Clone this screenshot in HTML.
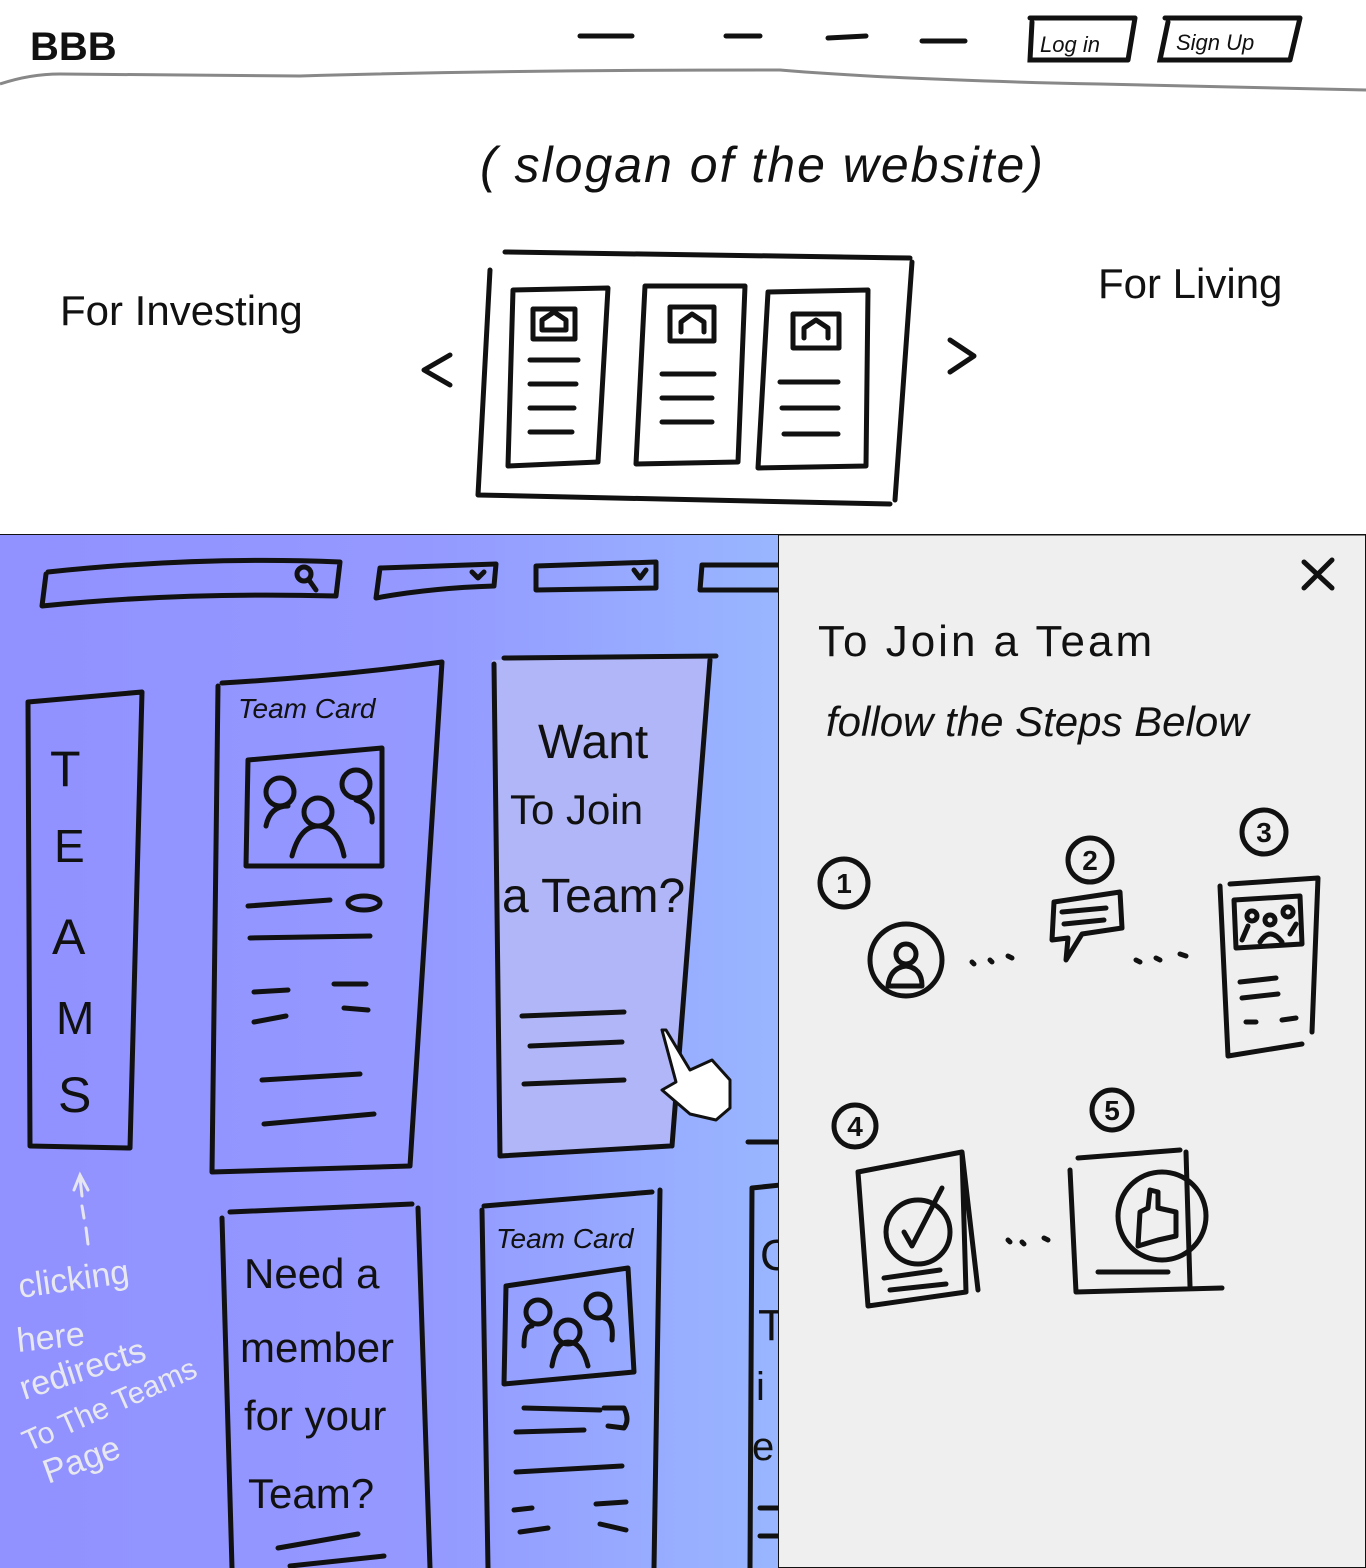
<!DOCTYPE html>
<html><head><meta charset="utf-8">
<style>
html,body{margin:0;padding:0;background:#fff;}
svg{display:block;}
text{font-family:"Liberation Sans",sans-serif;}
</style></head>
<body>
<svg width="1366" height="1568" viewBox="0 0 1366 1568" xmlns="http://www.w3.org/2000/svg">
<defs>
<linearGradient id="bg" x1="0" y1="0" x2="1" y2="0">
<stop offset="0" stop-color="#9191ff"/>
<stop offset="0.55" stop-color="#9499ff"/>
<stop offset="1" stop-color="#99b6ff"/>
</linearGradient>
<clipPath id="lc"><rect x="0" y="535" width="778" height="1033"/></clipPath>
</defs>
<rect width="1366" height="1568" fill="#fff"/>
<!-- header -->
<text x="30" y="60" font-size="40" font-weight="bold" fill="#111">BBB</text>
<g stroke="#111" stroke-width="5" stroke-linecap="round" fill="none">
<path d="M580 36 L632 36"/><path d="M726 36 L760 36"/><path d="M828 38 L866 36"/><path d="M922 41 L965 41"/>
<path d="M1030 18 L1135 18 M1032 22 L1030 60 L1128 60 M1135 18 L1128 60"/>
<path d="M1165 18 L1300 18 M1168 22 L1160 60 L1290 60 M1300 18 L1290 60"/>
</g>
<text x="1040" y="52" font-size="22" font-style="italic" fill="#111">Log in</text>
<text x="1176" y="50" font-size="22" font-style="italic" fill="#111">Sign Up</text>
<path d="M0 84 Q30 74 60 74 L300 76 Q500 70 780 70 Q900 80 1100 84 L1366 90" stroke="#888" stroke-width="3" fill="none"/>
<!-- slogan -->
<text x="480" y="182" font-size="50" font-style="italic" letter-spacing="2" fill="#111">( slogan of the website)</text>
<text x="60" y="325" font-size="42" fill="#111">For Investing</text>
<text x="1098" y="298" font-size="42" fill="#111">For Living</text>
<g stroke="#111" stroke-width="5" stroke-linecap="round" stroke-linejoin="round" fill="none">
<path d="M450 355 L424 370 L450 385"/>
<path d="M950 340 L974 356 L950 372"/>
<path d="M505 252 L910 258 M490 270 L478 495 L890 504 M912 262 L895 500"/>
<path d="M513 290 L608 288 L598 462 L508 466 Z"/>
<path d="M645 286 L745 286 L738 462 L636 464 Z"/>
<path d="M768 292 L868 290 L866 466 L758 468 Z"/>
<rect x="533" y="309" width="42" height="30"/><path d="M542 330 L542 320 L554 312 L566 320 L566 330 Z"/>
<rect x="670" y="307" width="44" height="34"/><path d="M681 332 L681 322 L692 314 L704 322 L704 332"/>
<rect x="793" y="314" width="46" height="34"/><path d="M804 338 L804 328 L816 320 L828 328 L828 338"/>
<path d="M530 360 L578 360 M530 384 L576 384 M530 408 L574 408 M530 432 L572 432"/>
<path d="M662 374 L714 374 M662 398 L712 398 M662 422 L712 422"/>
<path d="M780 382 L838 382 M782 408 L838 408 M784 434 L838 434"/>
</g>
<!-- bottom left -->
<rect x="0" y="535" width="778" height="1033" fill="url(#bg)"/>
<g clip-path="url(#lc)">
<path d="M492 660 L712 656 L672 1146 L502 1154 Z" fill="#b1b6f8"/>
<g stroke="#111" stroke-width="5" stroke-linecap="round" stroke-linejoin="round" fill="none">
<path d="M48 572 Q200 556 340 562 L336 596 Q180 592 42 606 L46 574"/>
<circle cx="304" cy="574" r="7"/><path d="M309 580 L316 590"/>
<path d="M380 568 L496 564 L494 586 Q430 588 376 598 Z"/><path d="M472 572 L478 578 L484 572"/>
<path d="M536 566 L656 562 L656 588 L536 590 Z"/><path d="M634 570 L640 578 L646 570"/>
<path d="M790 565 L702 565 L700 590 L790 590"/>
<path d="M28 702 L142 692 L130 1148 L30 1146 Z"/>
<path d="M222 683 Q340 676 442 662 L410 1166 L212 1172 L218 686"/>
<path d="M248 760 L382 748 L382 866 L246 866 Z"/>
<circle cx="280" cy="792" r="14"/><circle cx="356" cy="784" r="14"/><circle cx="318" cy="812" r="14"/>
<path d="M266 826 Q270 806 288 806 M372 822 Q374 806 356 800 M292 856 Q300 826 318 826 Q338 826 344 856"/>
<path d="M248 906 L330 900"/><ellipse cx="364" cy="903" rx="16" ry="7"/>
<path d="M250 938 L370 936 M254 992 L288 990 M334 984 L366 984 M254 1022 L286 1016 M344 1008 L368 1010 M262 1080 L360 1074 M264 1124 L374 1114"/>
<path d="M504 658 L716 656 M494 664 L500 1156 L670 1146 M710 660 L672 1146"/>
<path d="M522 1016 L624 1012 M530 1046 L622 1042 M524 1084 L624 1080"/>
<path d="M790 1142 L748 1142"/>
<path d="M230 1212 L412 1204 M222 1218 L232 1568 M418 1208 L430 1568"/>
<path d="M278 1548 L358 1534 M290 1566 L384 1556"/>
<path d="M484 1206 L652 1192 M482 1210 L488 1568 M660 1190 L654 1568"/>
<path d="M506 1286 L628 1268 L634 1372 L504 1384 Z"/>
<circle cx="538" cy="1312" r="12"/><circle cx="598" cy="1306" r="12"/><circle cx="568" cy="1332" r="12"/>
<path d="M524 1346 Q524 1326 532 1326 M612 1340 Q614 1320 604 1318 M552 1366 Q556 1342 568 1342 Q582 1342 588 1366"/>
<path d="M524 1408 L600 1410 M516 1432 L584 1430"/><path d="M604 1408 L624 1408 Q630 1420 624 1428 L608 1426"/>
<path d="M516 1472 L622 1466 M514 1510 L532 1508 M596 1504 L626 1502 M520 1532 L548 1528 M600 1524 L626 1530"/>
<path d="M790 1184 L752 1188 L750 1568"/>
<path d="M760 1508 L790 1508 M760 1536 L790 1536"/>
</g>
<text x="50" y="786" font-size="50" fill="#111">T</text>
<text x="54" y="862" font-size="46" fill="#111">E</text>
<text x="52" y="954" font-size="50" fill="#111">A</text>
<text x="56" y="1034" font-size="46" fill="#111">M</text>
<text x="58" y="1112" font-size="50" fill="#111">S</text>
<text x="238" y="718" font-size="28" font-style="italic" fill="#111">Team  Card</text>
<text x="538" y="758" font-size="48" fill="#111">Want</text>
<text x="510" y="824" font-size="42" fill="#111">To Join</text>
<text x="502" y="912" font-size="48" fill="#111">a Team?</text>
<text x="244" y="1288" font-size="42" fill="#111">Need a</text>
<text x="240" y="1362" font-size="42" fill="#111">member</text>
<text x="244" y="1430" font-size="42" fill="#111">for your</text>
<text x="248" y="1508" font-size="42" fill="#111">Team?</text>
<text x="496" y="1248" font-size="28" font-style="italic" fill="#111">Team Card</text>
<text x="760" y="1270" font-size="44" fill="#111">C</text>
<text x="758" y="1340" font-size="44" fill="#111">T</text>
<text x="756" y="1400" font-size="40" fill="#111">i</text>
<text x="752" y="1460" font-size="40" fill="#111">e</text>
<path d="M666 1030 L690 1070 L712 1060 L730 1080 L730 1108 L716 1120 L690 1114 L662 1090 L676 1082 L662 1030 Z" fill="#fff" stroke="#111" stroke-width="3" stroke-linejoin="round"/>
<g stroke="#e6e6f0" stroke-width="3" fill="none" stroke-linecap="round">
<path d="M74 1190 L80 1175 L88 1190 M80 1178 L82 1196 M82 1206 L84 1218 M86 1228 L88 1244"/>
</g>
<g fill="#e8e8f0" font-size="34">
<text x="20" y="1298" transform="rotate(-8 20 1298)">clicking</text>
<text x="18" y="1352" transform="rotate(-6 18 1352)">here</text>
<text x="24" y="1400" transform="rotate(-18 24 1400)">redirects</text>
<text x="28" y="1452" font-size="30" transform="rotate(-24 28 1452)">To The Teams</text>
<text x="48" y="1484" transform="rotate(-20 48 1484)">Page</text>
</g>
</g>
<!-- right panel -->
<rect x="778.5" y="535" width="587" height="1032.5" fill="#efefef" stroke="#111" stroke-width="1"/>
<line x1="0" y1="534.5" x2="1366" y2="534.5" stroke="#111" stroke-width="1"/>
<g stroke="#111" stroke-width="5" stroke-linecap="round" stroke-linejoin="round" fill="none">
<path d="M1304 562 L1332 588 M1332 560 L1304 588"/>
<circle cx="844" cy="883" r="24"/><circle cx="1090" cy="860" r="22"/><circle cx="1264" cy="832" r="22"/>
<circle cx="906" cy="960" r="36"/><circle cx="906" cy="954" r="10"/><path d="M888 986 Q890 968 906 966 Q922 968 922 986 Z"/>
<path d="M972 962 L974 964 M990 960 L992 962 M1008 956 L1012 958"/>
<path d="M1054 902 L1120 892 L1122 928 L1082 934 L1066 960 L1068 938 L1052 940 Z"/><path d="M1062 912 L1106 908 M1064 924 L1104 920"/>
<path d="M1136 960 L1140 962 M1156 958 L1160 960 M1180 954 L1186 956"/>
<path d="M1220 886 L1228 1056 L1302 1044 M1230 884 L1318 878 L1312 1032"/>
<path d="M1234 900 L1300 896 L1302 944 L1236 948 Z"/>
<circle cx="1252" cy="916" r="5"/><circle cx="1270" cy="920" r="5"/><circle cx="1288" cy="912" r="5"/>
<path d="M1242 940 L1248 926 M1260 942 Q1270 926 1282 942 M1290 934 L1296 924"/>
<path d="M1240 982 L1276 978 M1242 998 L1278 994 M1246 1022 L1256 1022 M1282 1020 L1296 1018"/>
<circle cx="855" cy="1126" r="21"/><circle cx="1112" cy="1110" r="20"/>
<path d="M858 1172 L962 1152 L966 1292 L868 1306 Z M962 1152 L978 1290"/>
<circle cx="918" cy="1232" r="32"/><path d="M904 1232 L912 1246 L942 1188"/>
<path d="M884 1278 L940 1270 M890 1290 L946 1284"/>
<path d="M1008 1240 L1010 1242 M1022 1242 L1024 1244 M1044 1238 L1048 1240"/>
<path d="M1078 1158 L1180 1150 M1070 1170 L1076 1292 L1222 1288 M1186 1152 L1190 1286"/>
<circle cx="1162" cy="1216" r="44"/>
<path d="M1138 1246 L1140 1212 L1148 1208 L1150 1190 L1158 1192 L1158 1208 L1176 1212 L1176 1236 L1158 1240 Z"/>
<path d="M1098 1272 L1168 1272"/>
</g>
<text x="818" y="656" font-size="44" letter-spacing="3" fill="#111">To  Join  a Team</text>
<text x="826" y="736" font-size="42" font-style="italic" fill="#111">follow the Steps Below</text>
<g font-size="28" font-weight="bold" fill="#111" text-anchor="middle">
<text x="844" y="893">1</text><text x="1090" y="870">2</text><text x="1264" y="842">3</text>
<text x="855" y="1136">4</text><text x="1112" y="1120">5</text>
</g>
</svg>
</body></html>
